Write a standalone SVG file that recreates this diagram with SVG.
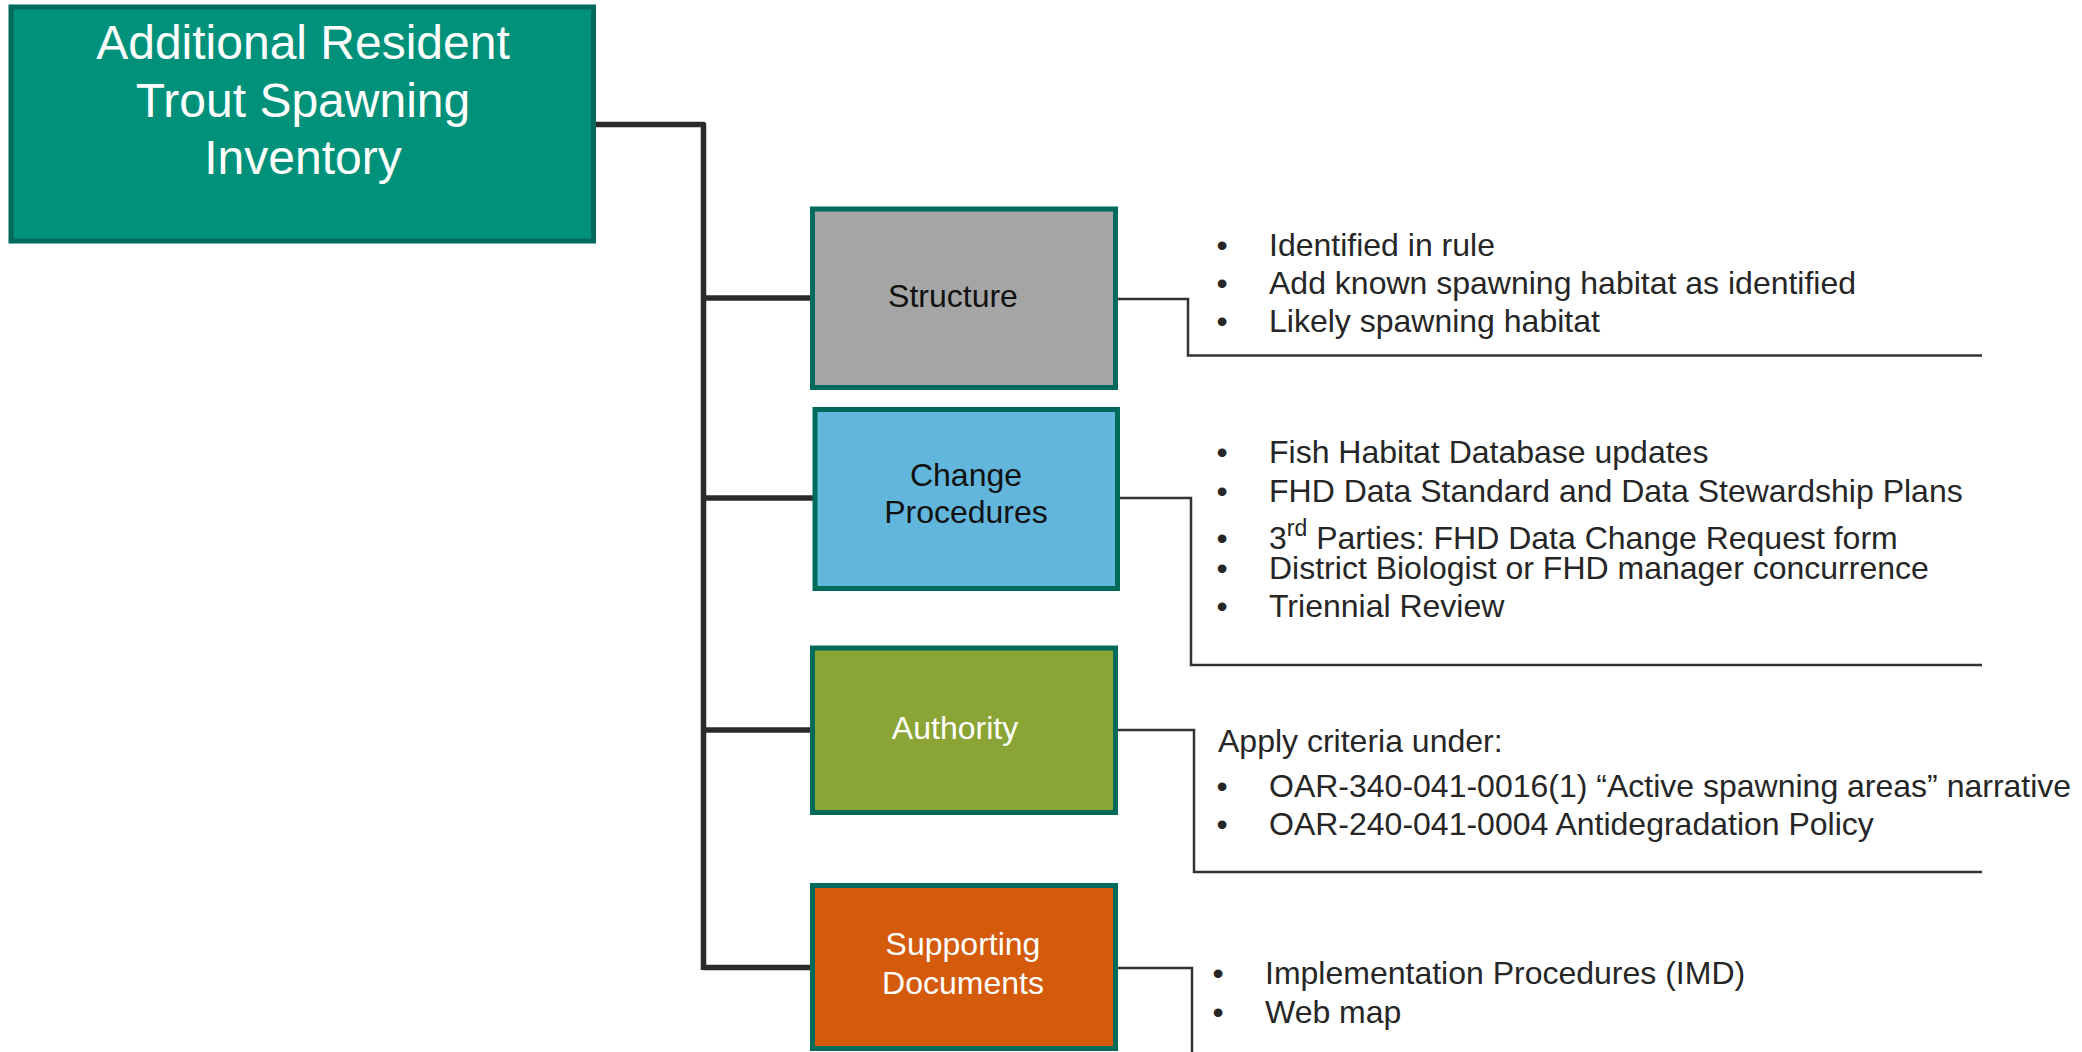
<svg xmlns="http://www.w3.org/2000/svg" width="2082" height="1052" viewBox="0 0 2082 1052">
<style>
.box{stroke:#006B5A;stroke-width:5}
.t{font-family:"Liberation Sans",Arial,sans-serif;font-size:32px}
.c{text-anchor:middle}
.w{fill:#FFFFFF}
.k{fill:#111111}
.d{fill:#262626}
.bul{text-anchor:middle}
.thick{fill:none;stroke:#2B2B2B;stroke-width:5.5;stroke-linejoin:round}
.thin{fill:none;stroke:#333333;stroke-width:2.5}
</style>
<rect width="2082" height="1052" fill="#FFFFFF"/>
<g id="connectors">
<path class="thick" d="M596 124.5 H703.5 V970"/>
<path class="thick" d="M703.5 298 H811"/>
<path class="thick" d="M703.5 498 H813"/>
<path class="thick" d="M703.5 730 H811"/>
<path class="thick" d="M703.5 967.5 H811"/>
<path class="thin" d="M1118 299 H1188 V355.5 H1982"/>
<path class="thin" d="M1120 498 H1191 V665 H1982"/>
<path class="thin" d="M1118 730 H1194 V872 H1982"/>
<path class="thin" d="M1118 968 H1192 V1052"/>
</g>
<g id="root">
<rect class="box" x="11" y="7" width="582.5" height="234" fill="#00917B"/>
<text class="t c w" style="font-size:48px" x="303" y="59">Additional Resident</text>
<text class="t c w" style="font-size:48px" x="303" y="116.5">Trout Spawning</text>
<text class="t c w" style="font-size:48px" x="303" y="173.5">Inventory</text>
</g>
<g id="structure">
<rect class="box" x="812.5" y="209" width="303" height="178.5" fill="#A5A5A5"/>
<text class="t c k" x="953" y="307">Structure</text>
</g>
<g id="structure-notes">
<text class="t bul d" x="1222" y="256">•</text>
<text class="t d" x="1269" y="256">Identified in rule</text>
<text class="t bul d" x="1222" y="294">•</text>
<text class="t d" x="1269" y="294">Add known spawning habitat as identified</text>
<text class="t bul d" x="1222" y="332">•</text>
<text class="t d" x="1269" y="332">Likely spawning habitat</text>
</g>
<g id="change">
<rect class="box" x="815" y="409.5" width="302.5" height="179" fill="#62B5DB"/>
<text class="t c k" x="966" y="486">Change</text>
<text class="t c k" x="966" y="523">Procedures</text>
</g>
<g id="change-notes">
<text class="t bul d" x="1222" y="463">•</text>
<text class="t d" x="1269" y="463">Fish Habitat Database updates</text>
<text class="t bul d" x="1222" y="502">•</text>
<text class="t d" x="1269" y="502">FHD Data Standard and Data Stewardship Plans</text>
<text class="t bul d" x="1222" y="549">•</text>
<text class="t d" x="1269" y="549">3<tspan style="font-size:23px" dy="-13">rd</tspan><tspan dy="13"> Parties: FHD Data Change Request form</tspan></text>
<text class="t bul d" x="1222" y="579">•</text>
<text class="t d" x="1269" y="579">District Biologist or FHD manager concurrence</text>
<text class="t bul d" x="1222" y="617">•</text>
<text class="t d" x="1269" y="617">Triennial Review</text>
</g>
<g id="authority">
<rect class="box" x="812.5" y="648" width="303" height="164.5" fill="#8AA536"/>
<text class="t c w" x="955" y="739">Authority</text>
</g>
<g id="authority-notes">
<text class="t d" x="1218" y="752">Apply criteria under:</text>
<text class="t bul d" x="1222" y="797">•</text>
<text class="t d" x="1269" y="797">OAR-340-041-0016(1) “Active spawning areas” narrative</text>
<text class="t bul d" x="1222" y="835">•</text>
<text class="t d" x="1269" y="835">OAR-240-041-0004 Antidegradation Policy</text>
</g>
<g id="supporting">
<rect class="box" x="812.5" y="885.5" width="303" height="163" fill="#D45B0B"/>
<text class="t c w" x="963" y="955">Supporting</text>
<text class="t c w" x="963" y="994">Documents</text>
</g>
<g id="supporting-notes">
<text class="t bul d" x="1218" y="984">•</text>
<text class="t d" x="1265" y="984">Implementation Procedures (IMD)</text>
<text class="t bul d" x="1218" y="1023">•</text>
<text class="t d" x="1265" y="1023">Web map</text>
</g>
</svg>
